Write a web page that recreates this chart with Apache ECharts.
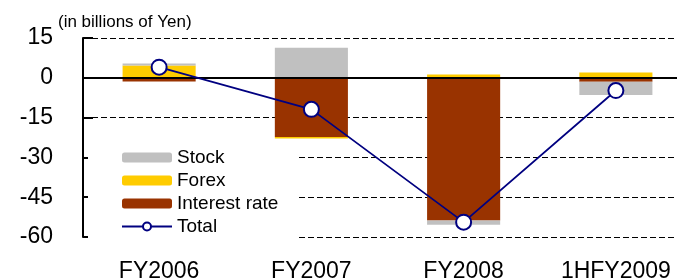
<!DOCTYPE html>
<html><head><meta charset="utf-8">
<script src="https://cdn.jsdelivr.net/npm/echarts@6/dist/echarts.min.js"></script>
<style>html,body{margin:0;padding:0;background:#fff}#c{width:677px;height:278px}</style>
</head><body><div id="c"></div>
<script>
var categories = ['FY2006', 'FY2007', 'FY2008', '1HFY2009'];
var stock = [0.8, 11.3, -1.6, -5.0];
var forex = [4.6, -0.6, 1.2, 2.0];
var interestRate = [-1.4, -22.3, -53.8, -1.5];
var total = [4.0, -11.9, -54.4, -4.8];
var yTicks = [15, 0, -15, -30, -45, -60];

var chart = echarts.init(document.getElementById('c'), null, {renderer: 'canvas'});
var font = 'Arial, "Liberation Sans", sans-serif';
chart.setOption({
  animation: false,
  backgroundColor: '#fff',
  grid: {left: 83, top: 38, height: 199, width: 609, containLabel: false, outerBoundsMode: 'none'},
  title: {text: '(in billions of Yen)', left: 53, top: 9,
    textStyle: {fontFamily: font, fontSize: 17, fontWeight: 'normal', color: '#000'}},
  legend: {
    orient: 'vertical', left: 88, top: 145,
    padding: [3, 18, 3, 33],
    backgroundColor: '#fff',
    itemWidth: 50, itemHeight: 10, itemGap: 4, itemTextGap: 6,
    data: ['Stock', 'Forex', 'Interest rate', 'Total'],
    textStyle: {fontFamily: font, fontSize: 19, color: '#000', lineHeight: 19}
  },
  xAxis: {
    type: 'category', data: categories,
    axisLine: {lineStyle: {color: '#000', width: 2}},
    axisTick: {show: false},
    axisLabel: {fontFamily: font, fontSize: 23, color: '#000', margin: 23}
  },
  yAxis: {
    type: 'value', min: yTicks[yTicks.length - 1], max: yTicks[0], interval: 15,
    axisLine: {show: true, lineStyle: {color: '#000', width: 2}},
    axisTick: {show: true, inside: true, length: 10, lineStyle: {color: '#000', width: 2}},
    axisLabel: {fontFamily: font, fontSize: 23, color: '#000', margin: 30},
    splitLine: {show: true, lineStyle: {color: '#000', type: [6, 3], width: 1.2}}
  },
  series: [
    {name: 'Interest rate', type: 'bar', stack: 'a', data: interestRate, barWidth: '48%',
      itemStyle: {color: '#993300'},
      markLine: {silent: true, symbol: ['none', 'none'], label: {show: false},
        lineStyle: {color: '#000', type: 'solid', width: 2}, data: [{yAxis: 0}]}},
    {name: 'Forex', type: 'bar', stack: 'a', data: forex, itemStyle: {color: '#FFCC00'}},
    {name: 'Stock', type: 'bar', stack: 'a', data: stock, itemStyle: {color: '#C0C0C0'}},
    {name: 'Total', type: 'line', data: total, symbol: 'circle', symbolSize: 15, z: 5,
      lineStyle: {color: '#000080', width: 1.8},
      itemStyle: {color: '#fff', borderColor: '#000080', borderWidth: 2}}
  ]
});
</script></body></html>
